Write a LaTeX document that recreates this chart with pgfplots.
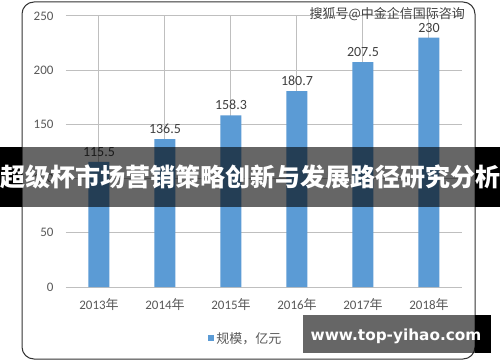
\documentclass[border=0pt]{standalone}
\usepackage{pgfplots}
\pgfplotsset{compat=1.18}
\usepackage{fontspec}
\setmainfont{Carlito}
\newfontfamily\cjk{Noto Sans CJK SC}
\newfontfamily\web{DejaVu Sans}
\definecolor{barblue}{HTML}{5B9BD5}
\definecolor{tick}{HTML}{595959}
\definecolor{lab}{HTML}{404040}
\definecolor{grid}{HTML}{D9D9D9}
\begin{document}
\begin{tikzpicture}[x=1pt,y=1pt]
\useasboundingbox (0,0) rectangle (500,362);
\fill[white] (0,0) rectangle (500,362);
\begin{axis}[
  scale only axis,
  width=396pt, height=271pt,
  at={(66pt,75pt)}, anchor=south west,
  xmin=-0.5, xmax=5.5, ymin=0, ymax=250,
  ytick={0,50,100,150,200,250},
  xtick={0,1,2,3,4,5},
  xticklabels={2013{\cjk 年},2014{\cjk 年},2015{\cjk 年},2016{\cjk 年},2017{\cjk 年},2018{\cjk 年}},
  axis line style={draw=none},
  major tick length=0pt,
  ymajorgrids,
  grid style={grid, line width=1pt},
  /pgf/number format/assume math mode=true,
  tick label style={text=tick, font=\fontsize{13}{15}\selectfont},
  yticklabel style={xshift=-9pt},
  xticklabel style={yshift=-8pt},
  ybar, bar width=21pt,
  nodes near coords,
  nodes near coords style={text=lab, font=\fontsize{14}{16}\selectfont, yshift=2pt, /pgf/number format/.cd, fixed, precision=1},
  legend style={at={(0.359,-0.19)}, anchor=west, draw=none, fill=none, font=\cjk\fontsize{13}{15}\selectfont, text=tick, inner sep=0pt},
  legend image code/.code={\fill[barblue] (0pt,-3pt) rectangle (6pt,3pt);},
]
\addplot[fill=barblue, draw=none] coordinates {(0,115.5) (1,136.5) (2,158.3) (3,180.7) (4,207.5) (5,230)};
\addlegendentry{规模，亿元}
\end{axis}
\draw[color=black!80, line width=1pt, rounded corners=12pt] (22,360) rectangle (475,3);
\node[text=black!75, font=\cjk\fontsize{13}{15}\selectfont, anchor=east, inner sep=0pt] at (465,348) {搜狐号@中金企信国际咨询};
% banner
\fill[black] (0,155) rectangle (22,215);
\fill[black] (475,155) rectangle (500,215);
\fill[black, opacity=0.6] (22,155) rectangle (475,215);
\node[text=white, font=\cjk\bfseries\fontsize{25}{27}\selectfont, inner sep=0pt] at (250,185) {超级杯市场营销策略创新与发展路径研究分析};
% website box
\fill[black] (475,9) rectangle (491,47);
\fill[black, opacity=0.6] (303,9) rectangle (475,47);
\node[text=white, font=\web\bfseries\fontsize{15.3}{17}\selectfont, inner sep=0pt] at (396,26) {www.top-yihao.com};
\end{tikzpicture}
\end{document}
